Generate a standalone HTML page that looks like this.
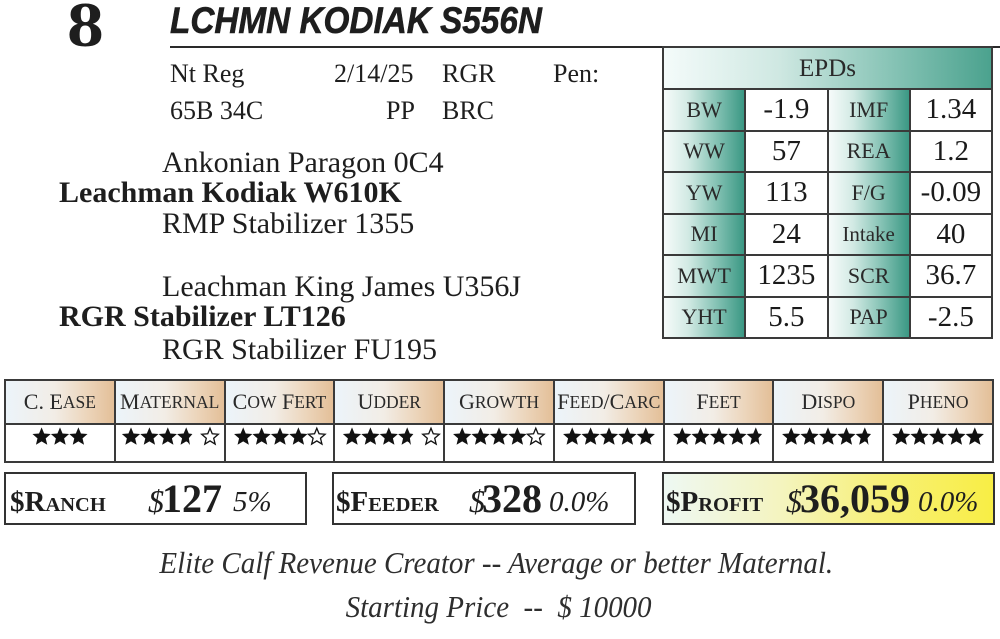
<!DOCTYPE html>
<html>
<head>
<meta charset="utf-8">
<style>
  html,body{margin:0;padding:0;background:#fff;}
  body{width:1000px;height:639px;position:relative;overflow:hidden;font-family:"Liberation Serif","DejaVu Serif",serif;color:#1e1e1e;}
  .a{position:absolute;white-space:pre;line-height:1;}
  .hline{position:absolute;left:170px;top:46px;width:830px;height:2px;background:#2a2a2a;}
  .epd{position:absolute;left:662px;top:46px;width:331px;height:293px;background:#3a3a3a;box-sizing:border-box;padding:2px;display:grid;grid-template-columns:repeat(4,1fr);grid-template-rows:40px repeat(6,1fr);gap:2px;}
  .epd div{display:flex;align-items:center;justify-content:center;line-height:1;}
  .epd .h{grid-column:1 / span 4;font-size:25px;color:#2a2a2a;background:linear-gradient(to right,#f4fbfa 0%,#cfe8e2 35%,#86c3b5 70%,#4ba28e 100%);}
  .epd .l{font-size:22px;color:#2a2a2a;background:linear-gradient(to right,#f6fbfa 0%,#d2eae4 30%,#86c3b5 65%,#3b9884 100%);}
  .epd .v{font-size:29px;background:#fff;color:#1a1a1a;}
  .epd .l.sm{font-size:21px;}
  .tr{position:absolute;left:4px;top:379px;width:990px;height:84px;background:#3a3a3a;box-sizing:border-box;padding:2px;display:grid;grid-template-columns:repeat(9,1fr);grid-template-rows:42px 1fr;gap:2px;}
  .tr .th{display:flex;align-items:center;justify-content:center;font-size:22px;color:#2a2a2a;white-space:nowrap;background:linear-gradient(to right,#ecf4fa 0%,#f2ede6 45%,#ecd5bb 75%,#e3bf98 100%);}
  .tr .th span{font-size:17.5px;}
  .tr .st{background:#fff;position:relative;}
  .tr .st svg{position:absolute;left:0;top:0;}
  .box{position:absolute;top:472px;height:53px;box-sizing:border-box;border:2px solid #333;background:#fff;}
  .box .t{position:absolute;white-space:pre;line-height:1;}
  .lab{font-weight:bold;font-size:29px;}
  .lab span{font-size:20.5px;}
  .ds{font-style:italic;font-size:32px;}
  .num{font-weight:bold;font-size:40px;}
  .pct{font-style:italic;font-size:29px;}
  .it{font-style:italic;font-size:31px;color:#2e2e2e;}
  .it span{display:inline-block;transform:scaleX(0.935);transform-origin:center;}
</style>
</head>
<body>
<svg width="0" height="0" style="position:absolute">
  <defs>
    <polygon id="sf" points="0,-9.6 2.55,-3.5 9.13,-2.97 4.12,1.34 5.65,7.77 0,4.34 -5.65,7.77 -4.12,1.34 -9.13,-2.97 -2.55,-3.5"/>
    <polygon id="sh" points="0,-9.6 2.55,-3.5 6.2,-3.0 2.7,1.1 3.7,8.0 1.6,5.3 0,4.34 -5.65,7.77 -4.12,1.34 -9.13,-2.97 -2.55,-3.5"/>
    <polygon id="so" fill="#fff" stroke="#111" stroke-width="1.3" points="0,-8.8 2.25,-3.2 8.3,-2.75 3.7,1.25 5.15,7.1 0,3.9 -5.15,7.1 -3.7,1.25 -8.3,-2.75 -2.25,-3.2"/>
  </defs>
</svg>

<div class="a" style="left:67px;top:-7px;font-size:64px;font-weight:bold;transform:scaleX(1.15);transform-origin:left top;">8</div>
<div class="a" style="left:170px;top:2px;font-family:'Liberation Sans',sans-serif;font-size:37px;font-weight:bold;font-style:italic;-webkit-text-stroke:0.6px #1e1e1e;transform:scaleX(0.9);transform-origin:left top;">LCHMN KODIAK S556N</div>
<div class="hline"></div>

<div class="a" style="left:170px;top:61px;font-size:26px;">Nt Reg</div>
<div class="a" style="left:334px;top:61px;font-size:26px;">2/14/25</div>
<div class="a" style="left:442px;top:61px;font-size:26px;">RGR</div>
<div class="a" style="left:553px;top:61px;font-size:26px;">Pen:</div>
<div class="a" style="left:170px;top:98px;font-size:26px;">65B 34C</div>
<div class="a" style="left:386px;top:98px;font-size:26px;">PP</div>
<div class="a" style="left:442px;top:98px;font-size:26px;">BRC</div>

<div class="a" style="left:162px;top:148px;font-size:30px;">Ankonian Paragon 0C4</div>
<div class="a" style="left:59px;top:178px;font-size:30px;font-weight:bold;">Leachman Kodiak W610K</div>
<div class="a" style="left:162px;top:209px;font-size:30px;">RMP Stabilizer 1355</div>
<div class="a" style="left:162px;top:272px;font-size:30px;">Leachman King James U356J</div>
<div class="a" style="left:59px;top:302px;font-size:30px;font-weight:bold;">RGR Stabilizer LT126</div>
<div class="a" style="left:162px;top:335px;font-size:30px;">RGR Stabilizer FU195</div>

<div class="epd">
  <div class="h">EPDs</div>
  <div class="l">BW</div><div class="v">-1.9</div><div class="l">IMF</div><div class="v">1.34</div>
  <div class="l">WW</div><div class="v">57</div><div class="l">REA</div><div class="v">1.2</div>
  <div class="l">YW</div><div class="v">113</div><div class="l">F/G</div><div class="v">-0.09</div>
  <div class="l">MI</div><div class="v">24</div><div class="l sm">Intake</div><div class="v">40</div>
  <div class="l">MWT</div><div class="v">1235</div><div class="l">SCR</div><div class="v">36.7</div>
  <div class="l">YHT</div><div class="v">5.5</div><div class="l">PAP</div><div class="v">-2.5</div>
</div>

<div class="tr">
  <div class="th">C. E<span>ASE</span></div>
  <div class="th">M<span>ATERNAL</span></div>
  <div class="th">C<span>OW</span>&nbsp;F<span>ERT</span></div>
  <div class="th">U<span>DDER</span></div>
  <div class="th">G<span>ROWTH</span></div>
  <div class="th">F<span>EED</span>/C<span>ARC</span></div>
  <div class="th">F<span>EET</span></div>
  <div class="th">D<span>ISPO</span></div>
  <div class="th">P<span>HENO</span></div>

  <!-- C. Ease -->
  <div class="st"><svg width="108" height="36"><g fill="#111">
    <use href="#sf" x="35.6" y="12"/><use href="#sf" x="54" y="12"/><use href="#sf" x="72.4" y="12"/>
  </g></svg></div>
  <!-- Maternal -->
  <div class="st"><svg width="108" height="36"><g fill="#111">
    <use href="#sf" x="15" y="12"/><use href="#sf" x="33.4" y="12"/><use href="#sf" x="51.8" y="12"/>
    <use href="#sh" x="70.2" y="12"/><use href="#so" x="94" y="12"/>
  </g></svg></div>
  <!-- Cow Fert -->
  <div class="st"><svg width="108" height="36"><g fill="#111">
    <use href="#sf" x="17.2" y="12"/><use href="#sf" x="35.6" y="12"/><use href="#sf" x="54" y="12"/>
    <use href="#sf" x="72.4" y="12"/><use href="#so" x="90.8" y="12"/>
  </g></svg></div>
  <!-- Udder -->
  <div class="st"><svg width="108" height="36"><g fill="#111">
    <use href="#sf" x="17" y="12"/><use href="#sf" x="35.4" y="12"/><use href="#sf" x="53.8" y="12"/>
    <use href="#sh" x="72.2" y="12"/><use href="#so" x="96" y="12"/>
  </g></svg></div>
  <!-- Growth -->
  <div class="st"><svg width="108" height="36"><g fill="#111">
    <use href="#sf" x="17.2" y="12"/><use href="#sf" x="35.6" y="12"/><use href="#sf" x="54" y="12"/>
    <use href="#sf" x="72.4" y="12"/><use href="#so" x="90.8" y="12"/>
  </g></svg></div>
  <!-- Feed/Carc -->
  <div class="st"><svg width="108" height="36"><g fill="#111">
    <use href="#sf" x="17.2" y="12"/><use href="#sf" x="35.6" y="12"/><use href="#sf" x="54" y="12"/>
    <use href="#sf" x="72.4" y="12"/><use href="#sf" x="90.8" y="12"/>
  </g></svg></div>
  <!-- Feet -->
  <div class="st"><svg width="108" height="36"><g fill="#111">
    <use href="#sf" x="17.2" y="12"/><use href="#sf" x="35.6" y="12"/><use href="#sf" x="54" y="12"/>
    <use href="#sf" x="72.4" y="12"/><use href="#sh" x="90.8" y="12"/>
  </g></svg></div>
  <!-- Dispo -->
  <div class="st"><svg width="108" height="36"><g fill="#111">
    <use href="#sf" x="17.2" y="12"/><use href="#sf" x="35.6" y="12"/><use href="#sf" x="54" y="12"/>
    <use href="#sf" x="72.4" y="12"/><use href="#sh" x="90.8" y="12"/>
  </g></svg></div>
  <!-- Pheno -->
  <div class="st"><svg width="108" height="36"><g fill="#111">
    <use href="#sf" x="17.2" y="12"/><use href="#sf" x="35.6" y="12"/><use href="#sf" x="54" y="12"/>
    <use href="#sf" x="72.4" y="12"/><use href="#sf" x="90.8" y="12"/>
  </g></svg></div>
</div>

<!-- $ boxes -->
<div class="box" style="left:4px;width:303px;">
  <div class="t lab" style="left:4px;top:14px;">$R<span>ANCH</span></div>
  <div class="t ds" style="left:142px;top:11px;">$</div>
  <div class="t num" style="left:156px;top:5px;">127</div>
  <div class="t pct" style="left:227px;top:14px;">5%</div>
</div>
<div class="box" style="left:332px;width:304px;">
  <div class="t lab" style="left:2px;top:14px;">$F<span>EEDER</span></div>
  <div class="t ds" style="left:135px;top:11px;">$</div>
  <div class="t num" style="left:148px;top:5px;">328</div>
  <div class="t pct" style="left:215px;top:14px;">0.0%</div>
</div>
<div class="box" style="left:662px;width:333px;background:linear-gradient(to right,#eef8f3 0%,#f4f4c0 35%,#f7f07a 65%,#f8ee45 100%);">
  <div class="t lab" style="left:2px;top:14px;">$P<span>ROFIT</span></div>
  <div class="t ds" style="left:122px;top:11px;">$</div>
  <div class="t num" style="left:136px;top:5px;">36,059</div>
  <div class="t pct" style="left:254px;top:14px;">0.0%</div>
</div>

<div class="a it" style="left:0;width:992px;text-align:center;top:547px;"><span>Elite Calf Revenue Creator -- Average or better Maternal.</span></div>
<div class="a it" style="left:0;width:998px;text-align:center;top:591px;"><span>Starting Price  --  $ 10000</span></div>

</body>
</html>
